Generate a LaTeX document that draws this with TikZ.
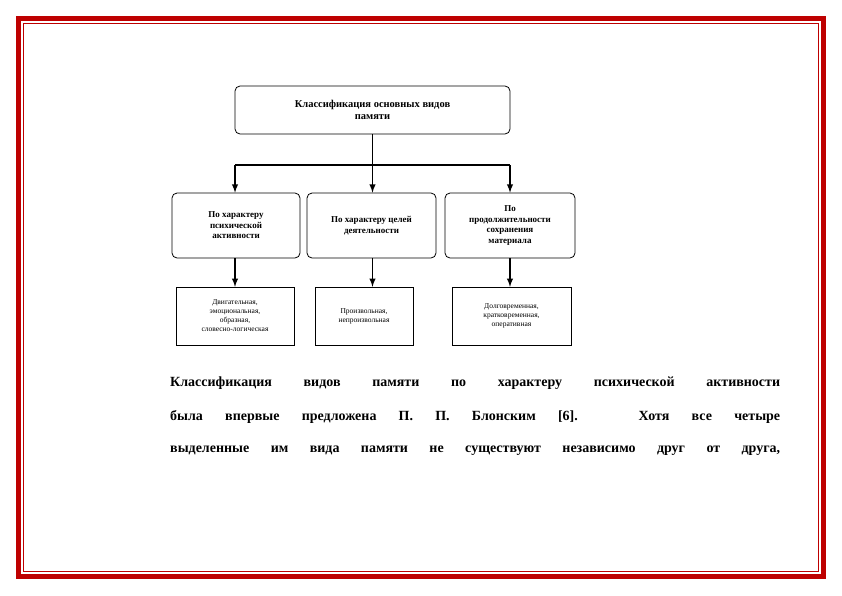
\documentclass[tikz,border=0pt]{standalone}
\usepackage{fontspec}
\setmainfont{Liberation Serif}
\usetikzlibrary{positioning}
\newcommand{\fullline}[1]{\hbox to 610pt{#1}}
\tikzset{
  head/.style={draw, rounded corners=5pt, thick, align=center, font=\bfseries\fontsize{10.5}{12}\selectfont},
  group/.style={draw, rounded corners=5pt, thick, align=center, minimum height=65pt, font=\bfseries\fontsize{9}{10.5}\selectfont},
  kind/.style={draw, align=center, minimum height=58pt, font=\fontsize{7.5}{9}\selectfont},
  textline/.style={anchor=west, inner sep=0pt, font=\bfseries\fontsize{14}{16}\selectfont},
  link/.style={line width=1.8pt, -latex}
}
\begin{document}
\begin{tikzpicture}[x=1pt, y=-1pt]
  \useasboundingbox (0,0) rectangle (842,595);
  % frame
  \draw[draw={rgb,255:red,190;green,0;blue,0}, line width=5pt] (18.5,18.5) rectangle (823.5,576.5);
  \draw[draw={rgb,255:red,190;green,0;blue,0}, line width=1pt] (23.5,23.5) rectangle (818.5,571.5);
  % boxes
  \node[head, minimum width=275pt, minimum height=48pt] (top) at (372.5,110) {Классификация основных видов\\памяти};
  \node[group, minimum width=128pt] (g1) at (236,225.5) {По характеру\\психической\\активности};
  \node[group, minimum width=129pt] (g2) at (371.5,225.5) {По характеру целей\\деятельности};
  \node[group, minimum width=130pt] (g3) at (510,225.5) {По\\продолжительности\\сохранения\\материала};
  \node[kind, minimum width=118pt] (k1) at (235,316) {Двигательная,\\эмоциональная,\\образная,\\словесно-логическая};
  \node[kind, minimum width=98pt] (k2) at (364,316) {Произвольная,\\непроизвольная};
  \node[kind, minimum width=119pt] (k3) at (511.5,316) {Долговременная,\\кратковременная,\\оперативная};
  \coordinate (fork) at (372.5,165);
  \coordinate (forkl) at (235,165);
  \coordinate (forkr) at (510,165);
  % connectors
  \draw[line width=1.8pt] (top.south) -- (fork);
  \draw[line width=1.8pt] (forkl) -- (forkr);
  \draw[link] (forkl) -- (forkl |- g1.north);
  \draw[link] (fork) -- (fork |- g2.north);
  \draw[link] (forkr) -- (forkr |- g3.north);
  \draw[link] (forkl |- g1.south) -- (forkl |- k1.north);
  \draw[link] (fork |- g2.south) -- (fork |- k2.north);
  \draw[link] (forkr |- g3.south) -- (forkr |- k3.north);
  % text
  \node[textline] (l1) at (170,383) {\fullline{Классификация видов памяти по характеру психической активности}};
  \node[textline] (l2) at (170,417) {\fullline{была впервые предложена П. П. Блонским [6]. Хотя все четыре}};
  \node[textline] (l3) at (170,451) {\fullline{выделенные им вида памяти не существуют независимо друг от друга,}};
\end{tikzpicture}
\end{document}
